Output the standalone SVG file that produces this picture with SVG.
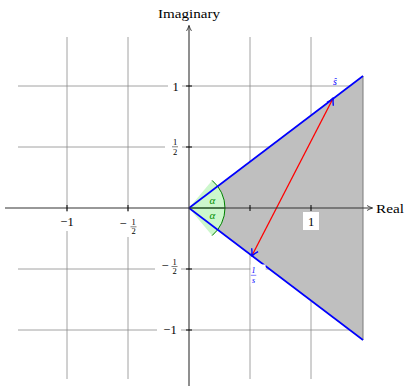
<svg xmlns="http://www.w3.org/2000/svg" width="405" height="389" viewBox="0 0 405 389">
<defs>
<style>
.grid{stroke:#8c8c8c;stroke-width:0.8;fill:none}
.axis{stroke:#333;stroke-width:1.1;fill:none}
.tick{stroke:#000;stroke-width:1}
.lbl{font-family:"Liberation Serif","DejaVu Serif",serif;font-size:12.5px;fill:#000}
.frac{font-family:"Liberation Serif","DejaVu Serif",serif;font-size:8.5px;fill:#000}
.box{fill:#fff;stroke:none}
.blue{stroke:#0000ff;stroke-width:1.6;fill:none}
.bl{font-family:"Liberation Serif","DejaVu Serif",serif;font-style:italic;fill:#0000ff}
.gr{font-family:"Liberation Serif","DejaVu Serif",serif;font-style:italic;font-size:11px;fill:#009000}
</style>
<marker id="ax" viewBox="0 0 10 10" refX="8" refY="5" markerWidth="7" markerHeight="7" markerUnits="userSpaceOnUse" orient="auto">
<path d="M1,1.5 Q5,4 9,5 Q5,6 1,8.5" fill="none" stroke="#333" stroke-width="1.3"/>
</marker>
<marker id="bt" viewBox="0 0 10 10" refX="8" refY="5" markerWidth="9" markerHeight="9" markerUnits="userSpaceOnUse" orient="auto-start-reverse">
<path d="M1,1 Q5,4 9,5 Q5,6 1,9" fill="none" stroke="#0000ff" stroke-width="1.5"/>
</marker>
</defs>
<g id="grid">
<path class="grid" d="M67,37V379M128,37V379M250,37V379M311,37V379M18,86H360M18,147H360M18,269H360M18,330H360"/>
</g>
<g id="region">
<polygon points="189,208 363,76 363,340" fill="#bfbfbf" stroke="#7a7a7a" stroke-width="1"/>
</g>
<g id="angle">
<path d="M189,208 L212.1,180.4 A36,36 0 0 1 212.1,235.6 Z" fill="#ccf7cc" stroke="none"/>
<path d="M212.1,180.4 A36,36 0 0 1 212.1,235.6" fill="none" stroke="#008000" stroke-width="1"/>
<line x1="189" y1="208" x2="225" y2="208" stroke="#008000" stroke-width="1"/>
<text class="gr" x="212.5" y="204" text-anchor="middle">α</text>
<text class="gr" x="212.5" y="218.5" text-anchor="middle">α</text>
</g>
<g id="edges">
<line class="blue" x1="189" y1="208" x2="363" y2="76"/>
<line class="blue" x1="189" y1="208" x2="363" y2="340"/>
</g>
<g id="connectors">
<line x1="252" y1="255.5" x2="333" y2="98.5" stroke="#ff0000" stroke-width="1.3" marker-start="url(#bt)" marker-end="url(#bt)"/>
</g>
<g id="axes">
<line class="axis" x1="5" y1="208" x2="372" y2="208" marker-end="url(#ax)"/>
<line class="axis" x1="189" y1="386" x2="189" y2="26" marker-end="url(#ax)"/>
<path class="tick" d="M67,205V211M128,205V211M250,205V211M311,205V211M186,86H192M186,147H192M186,269H192M186,330H192"/>
<text class="lbl" x="189" y="18" text-anchor="middle" textLength="62" lengthAdjust="spacingAndGlyphs">Imaginary</text>
<text class="lbl" x="376" y="213" textLength="28" lengthAdjust="spacingAndGlyphs">Real</text>
</g>
<g id="xlabels">
<rect class="box" x="57" y="212" width="20" height="19"/>
<text class="lbl" x="67" y="226" text-anchor="middle">−1</text>
<rect class="box" x="116" y="212" width="22" height="25"/>
<text class="lbl" x="123" y="228" text-anchor="middle">−</text>
<text class="frac" x="133.5" y="225" text-anchor="middle">1</text>
<line x1="130.5" y1="226.8" x2="136.5" y2="226.8" stroke="#000" stroke-width="0.5"/>
<text class="frac" x="133.5" y="233.5" text-anchor="middle">2</text>
<rect class="box" x="303" y="212" width="16" height="18"/>
<text class="lbl" x="311" y="225.5" text-anchor="middle">1</text>
</g>
<g id="ylabels">
<rect class="box" x="168" y="78" width="14" height="16"/>
<text class="lbl" x="175.5" y="90.5" text-anchor="middle">1</text>
<rect class="box" x="165" y="136" width="17" height="23"/>
<text class="frac" x="175" y="145" text-anchor="middle">1</text>
<line x1="172" y1="146.8" x2="178" y2="146.8" stroke="#000" stroke-width="0.5"/>
<text class="frac" x="175" y="155" text-anchor="middle">2</text>
<rect class="box" x="155" y="257" width="26" height="20"/>
<text class="lbl" x="165" y="269.5" text-anchor="middle">−</text>
<text class="frac" x="174.5" y="265" text-anchor="middle">1</text>
<line x1="171.5" y1="266.5" x2="177.5" y2="266.5" stroke="#000" stroke-width="0.5"/>
<text class="frac" x="174.5" y="273.5" text-anchor="middle">2</text>
<rect class="box" x="157" y="321" width="24" height="17"/>
<text class="lbl" x="170" y="333.5" text-anchor="middle">−1</text>
</g>
<g id="pointlabels">
<text class="bl" x="335" y="85" font-size="10" text-anchor="middle">ŝ</text>
<rect class="box" x="250.6" y="264.5" width="15" height="22"/>
<text class="bl" x="253.5" y="273" font-size="8" font-style="normal" text-anchor="middle">1</text>
<line x1="250.8" y1="275.3" x2="256.3" y2="275.3" stroke="#0000ff" stroke-width="0.5"/>
<text class="bl" x="253.5" y="283" font-size="8" text-anchor="middle">s</text>
</g>
</svg>
